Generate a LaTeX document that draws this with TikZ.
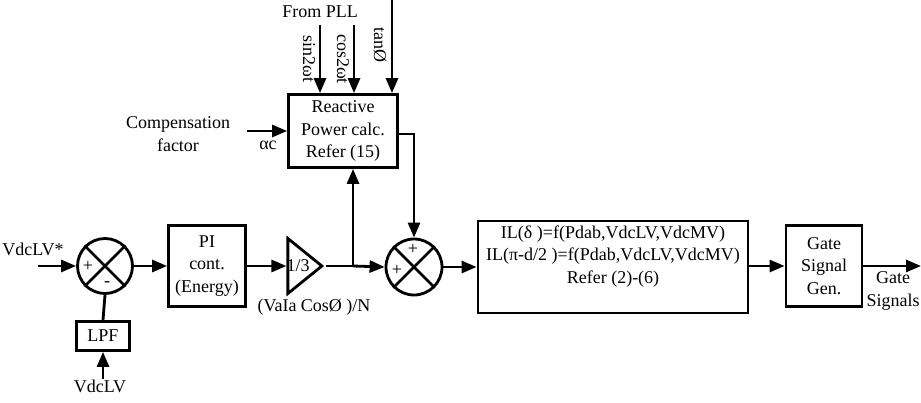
\documentclass[tikz,border=0pt]{standalone}
\usepackage{fontspec}
\setmainfont{Liberation Serif}
\usetikzlibrary{arrows.meta,shapes.geometric,positioning}
\tikzset{
  blk/.style={draw,line width=2.8pt,inner sep=0pt,align=center},
  sumnode/.style={draw,circle,line width=2.8pt,minimum size=55pt,inner sep=0pt},
  arr/.style={line width=2.8pt,-{Triangle[length=15pt,width=12pt]}},
  ln/.style={line width=2.8pt},
  sgn/.style={font=\fontsize{18}{18}\selectfont,inner sep=0pt}
}
\begin{document}
\begin{tikzpicture}[x=1pt,y=-1pt,line cap=butt,line join=miter,
  font=\fontsize{18}{22.5}\selectfont]
  \useasboundingbox (0,0) rectangle (921,403);
  % input coordinates
  \coordinate (vin) at (38,266);
  \coordinate (vlv) at (103,379);
  \coordinate (sinin) at (320,25);
  \coordinate (cosin) at (354,25);
  \coordinate (tanin) at (392,0);
  \coordinate (cfin) at (247,131);
  \coordinate (gout) at (921,266);
  % blocks
  \node[sumnode] (s1) at (105,266) {};
  \node[blk,minimum width=53pt,minimum height=29pt] (lpf) at (103,336) {LPF};
  \node[blk,minimum width=77pt,minimum height=81pt] (pi) at (207,266) {PI\\cont.\\(Energy)};
  \node[draw,line width=2.8pt,isosceles triangle,isosceles triangle stretches,
    minimum width=55pt,minimum height=34pt,inner sep=0pt] (gain) at (301,266) {};
  \node[inner sep=0pt] at (298,266) {1/3};
  \node[blk,minimum width=109pt,minimum height=73pt] (rc) at (343,131) {Reactive\\Power calc.\\Refer (15)};
  \node[sumnode,minimum size=56pt] (s2) at (414,267) {};
  \node[blk,minimum width=270pt,minimum height=92pt] (fb) at (613,267) {};
  \node[blk,minimum width=76pt,minimum height=81pt] (gate) at (824,266) {Gate\\Signal\\Gen.};
  \coordinate (br) at (353,266);
  % crosses and signs
  \draw[ln] (s1.north west) -- (s1.south east) (s1.north east) -- (s1.south west);
  \draw[ln] (s2.north west) -- (s2.south east) (s2.north east) -- (s2.south west);
  \node[sgn] at (88,266) {+};
  \node[sgn] at (107,284) {-};
  \node[sgn] at (413,249) {+};
  \node[sgn] at (397,270) {+};
  % labels
  \node at (33,249) {VdcLV*};
  \node at (100,386) {VdcLV};
  \node at (320,12) {From PLL};
  \node[rotate=-90] at (309,59) {sin2ωt};
  \node[rotate=-90] at (343,59) {cos2ωt};
  \node[rotate=-90] at (380,45) {tanØ};
  \node[align=center] at (178,134) {Compensation\\factor};
  \node at (268,145) {αc};
  \node at (314,307) {(VaIa CosØ )/N};
  \node[below=6pt of fb.north,align=center,inner sep=0pt] {IL(δ )=f(Pdab,VdcLV,VdcMV)\\IL(π-d/2 )=f(Pdab,VdcLV,VdcMV)\\Refer (2)-(6)};
  \node[align=center] at (893,291) {Gate\\Signals};
  % connectors
  \draw[arr] (vin) -- (s1.west);
  \draw[ln] (s1.south) -- (lpf.north);
  \draw[arr] (vlv) -- (lpf.south);
  \draw[arr] (s1.east) -- (pi.west);
  \draw[arr] (pi.east) -- (gain.west);
  \draw[ln] (gain.apex) -- (br);
  \draw[arr] (br) -- (s2.west);
  \draw[arr] (br) -- (br |- rc.south);
  \draw[arr] (sinin) -- (sinin |- rc.north);
  \draw[arr] (cosin) -- (cosin |- rc.north);
  \draw[arr] (tanin) -- (tanin |- rc.north);
  \draw[arr] (cfin) -- (rc.west);
  \draw[arr] ([yshift=-3pt]rc.east) -| (s2.north);
  \draw[arr] (s2.east) -- (fb.west |- s2.east);
  \draw[arr] (fb.east |- gate.west) -- (gate.west);
  \draw[arr] (gate.east) -- (gout);
\end{tikzpicture}
\end{document}
